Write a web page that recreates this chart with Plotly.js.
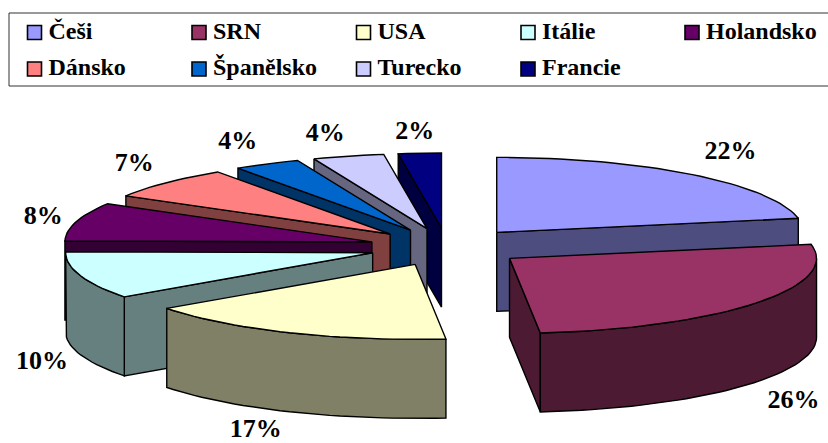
<!DOCTYPE html>
<html><head><meta charset="utf-8">
<script src="https://cdn.plot.ly/plotly-3.0.1.min.js"></script>
<style>html,body{margin:0;padding:0;background:#fff}#c{width:828px;height:443px}</style>
</head><body><div id="c"></div>
<script>
const categories = ["Češi","SRN","USA","Itálie","Holandsko","Dánsko","Španělsko","Turecko","Francie"];
// estimated unrounded shares; labels show them rounded
const values = [22,26.4,16.6,10.2,8.3,7,3.5,3.75,2.25];
const topColors = ["#9999FF","#993366","#FFFFCC","#CCFFFF","#660066","#FF8080","#0066CC","#CCCCFF","#000080"];
const sideColors = ["#4D4D80","#4D1A33","#808066","#668080","#330033","#804040","#003366","#666680","#000040"];
// back-to-front painting order (slice indices)
const paintOrder = [8,7,6,5,4,3,2,0,1];
// percent-label nudges away from the rim, in px
const labelDx = [38,38,-34,-38,-33,-32,-29,-23,-5];
const labelDy = [-22,19,19,8,-4,-18,-21,-22,-21];

const cx=447, cy=247, rx=307, ry=75, depth=79, ex=78, ey=19;
const FONT="Liberation Serif", FS=24, FSP=26;
const total=values.reduce((a,b)=>a+b,0);
const rad=d=>d*Math.PI/180;
let acc=0;
const slices=values.map((v,i)=>{
  const a=acc/total*360; acc+=v; const b=acc/total*360; const m=(a+b)/2;
  return {i,a,b,m,ax:cx+ex*Math.sin(rad(m)),ay:cy-ey*Math.cos(rad(m))};
});
function rim(s,t,dz){return [s.ax+rx*Math.sin(rad(t)), s.ay-ry*Math.cos(rad(t))+(dz||0)];}
function arc(s,a,b,dz){const n=Math.max(2,Math.ceil(Math.abs(b-a)/2));const o=[];
  for(let k=0;k<=n;k++)o.push(rim(s,a+(b-a)*k/n,dz));return o;}
function poly(pts,fill){
  const c=pts.concat([pts[0]]);
  return {x:c.map(p=>p[0]),y:c.map(p=>p[1]),mode:'lines',fill:'toself',fillcolor:fill,
    line:{color:'#000',width:1.4},hoverinfo:'skip',showlegend:false,type:'scatter'};
}
const traces=[];
paintOrder.forEach(idx=>{
  const s=slices[idx];
  const ap=[s.ax,s.ay], apB=[s.ax,s.ay+depth];
  if(Math.sin(rad(s.a))<-1e-6) traces.push(poly([ap,rim(s,s.a),rim(s,s.a,depth),apB],sideColors[idx]));
  if(Math.sin(rad(s.b))>1e-6) traces.push(poly([ap,rim(s,s.b),rim(s,s.b,depth),apB],sideColors[idx]));
  const fa=Math.max(s.a,90), fb=Math.min(s.b,270);
  if(fb>fa) traces.push(poly(arc(s,fa,fb).concat(arc(s,fb,fa,depth)),sideColors[idx]));
  traces.push(poly([ap].concat(arc(s,s.a,s.b)),topColors[idx]));
});
// percent labels
const lab=slices.map(s=>{
  const p=rim(s,s.m,(s.m>90&&s.m<270)?depth:0);
  return [p[0]+labelDx[s.i],p[1]+labelDy[s.i]];
});
traces.push({type:'scatter',mode:'text',x:lab.map(p=>p[0]),y:lab.map(p=>p[1]),
  text:values.map(v=>Math.round(v)+'%'),textposition:'middle center',hoverinfo:'skip',showlegend:false,
  textfont:{family:FONT,size:FSP,color:'#000',weight:'bold'},cliponaxis:false});
// legend
const colX=[34.5,199,363.5,528,692], rowY=[32.5,69];
const lx=categories.map((_,i)=>colX[i%5]), ly=categories.map((_,i)=>rowY[Math.floor(i/5)]);
traces.push({type:'scatter',mode:'markers',x:lx,y:ly,hoverinfo:'skip',showlegend:false,
  marker:{symbol:'square',size:14,color:topColors,line:{color:'#000',width:1.6}}});
traces.push({type:'scatter',mode:'text',x:lx.map(v=>v+14),y:ly,text:categories,textposition:'middle right',
  hoverinfo:'skip',showlegend:false,textfont:{family:FONT,size:FS,color:'#000',weight:'bold'},cliponaxis:false});
const hide={visible:false,fixedrange:true};
Plotly.newPlot('c',traces,{
  width:828,height:443,margin:{l:0,r:0,t:0,b:0},paper_bgcolor:'#fff',plot_bgcolor:'#fff',
  xaxis:Object.assign({},hide,{range:[0,828]}),
  yaxis:Object.assign({},hide,{range:[443,0]}),
  showlegend:false,
  shapes:[{type:'rect',xref:'x',yref:'y',x0:9,y0:13,x1:835,y1:86,line:{color:'#333',width:1},fillcolor:'rgba(0,0,0,0)',layer:'below'}]
},{displayModeBar:false,staticPlot:true});
</script></body></html>
